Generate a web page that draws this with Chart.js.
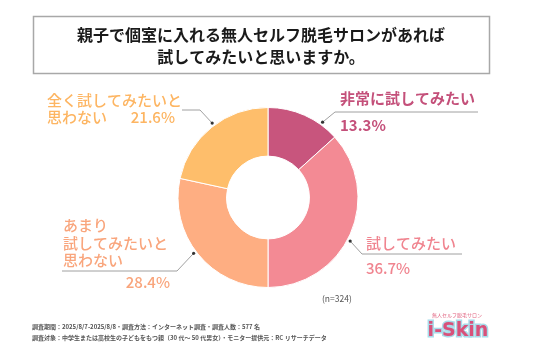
<!DOCTYPE html>
<html><head><meta charset="utf-8">
<script src="https://cdn.jsdelivr.net/npm/chart.js@4"></script>
<style>html,body{margin:0;padding:0;background:#fff;}#wrap{position:relative;width:536px;height:357px;}</style>
</head><body><div id="wrap"><canvas id="c" width="536" height="357"></canvas></div>
<script>
const categories = ['非常に試してみたい', '試してみたい', 'あまり試してみたいと思わない', '全く試してみたいと思わない'];
const values = [13.3, 36.7, 28.4, 21.6];
const sliceColors = ['#C8557D', '#F38A94', '#FEAE82', '#FEBE6B'];
const labelColors = ['#C4507A', '#F0848F', '#F9A57C', '#FDB562'];
const titleLines = ['親子で個室に入れる無人セルフ脱毛サロンがあれば', '試してみたいと思いますか。'];
const sampleNote = '(n=324)';
const footerLines = ['調査期間：2025/8/7-2025/8/8・調査方法：インターネット調査・調査人数：577 名',
  '調査対象：中学生または高校生の子どもをもつ親（30 代～ 50 代男女）・モニター提供元：RC リサーチデータ'];

const FONT = '"Noto Sans CJK JP", "Noto Sans", sans-serif';

// label layouts (text lines for each slice; percentage drawn from values)
const labelLayout = [
  {lines:[['非常に試してみたい',340,98,'left']], pct:[340,125,'left'], weight:'bold', angleOff:12,
   elbow:[335,112], end:[478,112]},
  {lines:[['試してみたい',366,243,'left']], pct:[366,268,'left'], weight:'500', angleOff:4,
   elbow:[362,254], end:[462,254]},
  {lines:[['あまり',63,225,'left'],['試してみたいと',63,243,'left'],['思わない',63,260,'left']], pct:[170,282,'right'], weight:'500', angleOff:2,
   elbow:[177,271], end:[62,271]},
  {lines:[['全く試してみたいと',47,100,'left'],['思わない',47,117,'left']], pct:[175,117,'right'], weight:'500', angleOff:2,
   elbow:[200,110], end:[182,110]}
];

const decor = {
  id:'decor',
  afterDraw(chart){
    const ctx = chart.ctx;
    ctx.save();
    // title box
    ctx.strokeStyle = '#A8A8A8'; ctx.lineWidth = 1.5;
    ctx.strokeRect(33.5, 16.5, 456, 57);
    ctx.fillStyle = '#1a1a1a';
    ctx.font = 'bold 16px ' + FONT;
    ctx.textAlign = 'center'; ctx.textBaseline = 'middle';
    ctx.fillText(titleLines[0], 261, 35);
    ctx.fillText(titleLines[1], 261, 57);

    // labels
    const meta = chart.getDatasetMeta(0);
    meta.data.forEach((arc, i) => {
      const L = labelLayout[i];
      const p = arc.getProps(['x','y','startAngle','endAngle','outerRadius'], true);
      const mid = (p.startAngle + p.endAngle) / 2 + L.angleOff * Math.PI / 180;
      const r = p.outerRadius + 3;
      const dx = p.x + Math.cos(mid) * r, dy = p.y + Math.sin(mid) * r;
      ctx.strokeStyle = '#A0A0A0'; ctx.lineWidth = 1;
      ctx.beginPath(); ctx.moveTo(dx, dy); ctx.lineTo(L.elbow[0], L.elbow[1]); ctx.lineTo(L.end[0], L.end[1]); ctx.stroke();
      ctx.fillStyle = '#333';
      ctx.beginPath(); ctx.arc(dx, dy, 1.6, 0, Math.PI*2); ctx.fill();
      ctx.fillStyle = labelColors[i];
      ctx.font = L.weight + ' 15px ' + FONT;
      ctx.textBaseline = 'middle';
      L.lines.forEach(l => { ctx.textAlign = l[3]; ctx.fillText(l[0], l[1], l[2]); });
      ctx.textAlign = L.pct[2];
      ctx.fillText(values[i].toFixed(1) + '%', L.pct[0], L.pct[1]);
    });

    // n note
    ctx.fillStyle = '#555'; ctx.font = '8.5px ' + FONT; ctx.textAlign = 'left';
    ctx.fillText(sampleNote, 322, 299);
    // footer
    ctx.fillStyle = '#555'; ctx.font = 'bold 6px ' + FONT;
    ctx.fillText(footerLines[0], 32, 327);
    ctx.fillText(footerLines[1], 32, 338);
    // logo
    ctx.textAlign = 'center';
    ctx.fillStyle = '#E0607E'; ctx.font = '5px ' + FONT;
    ctx.fillText('無人セルフ脱毛サロン', 457, 315);
    ctx.font = 'bold 19px "DejaVu Sans", sans-serif';
    ctx.lineWidth = 3; ctx.strokeStyle = '#A8DCEA';
    ctx.strokeText('i-Skin', 458, 331);
    ctx.fillStyle = '#D9517A';
    ctx.fillText('i-Skin', 458, 331);
    ctx.restore();
  }
};

new Chart(document.getElementById('c'), {
  type:'doughnut',
  data:{ labels:categories, datasets:[{ data:values, backgroundColor:sliceColors, borderColor:'#FFFFFF', borderWidth:1 }]},
  options:{
    responsive:false, animation:false, cutout:'46%',
    layout:{ padding:{ top:107, bottom:69, left:0, right:0 } },
    plugins:{ legend:{display:false}, tooltip:{enabled:false} }
  },
  plugins:[decor]
});
</script></body></html>
